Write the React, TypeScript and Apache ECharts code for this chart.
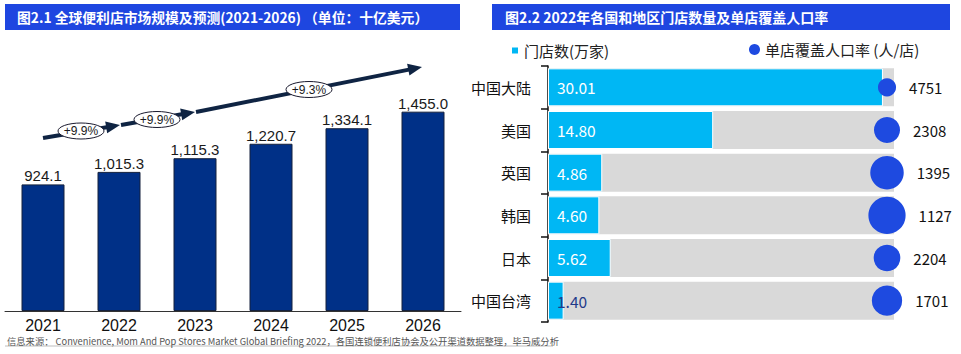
import React, { useEffect, useRef } from "react";
import * as echarts from "echarts";

const years = ["2021", "2022", "2023", "2024", "2025", "2026"];
const marketSize = [924.1, 1015.3, 1115.3, 1220.7, 1334.1, 1455.0];
const growthLabels = ["+9.9%", "+9.9%", "+9.3%"];

const regions = ["中国大陆", "美国", "英国", "韩国", "日本", "中国台湾"];
const storeCounts = [30.01, 14.8, 4.86, 4.6, 5.62, 1.4];
const coverage = [4751, 2308, 1395, 1127, 2204, 1701];

const title1 = "图2.1 全球便利店市场规模及预测(2021-2026) （单位：十亿美元）";
const title2 = "图2.2 2022年各国和地区门店数量及单店覆盖人口率";
const source =
  "信息来源： Convenience, Mom And Pop Stores Market Global Briefing 2022，各国连锁便利店协会及公开渠道数据整理，毕马威分析";

const CJK = '"Noto Sans CJK SC", "Noto Sans", sans-serif';
const NARROW = '"Liberation Sans Narrow", "Liberation Sans", sans-serif';
const ARROW = "#0f2443";

function arrow(x1: number, y1: number, x2: number, y2: number) {
  const dx = x2 - x1;
  const dy = y2 - y1;
  const len = Math.sqrt(dx * dx + dy * dy);
  const ux = dx / len;
  const uy = dy / len;
  const hl = 14;
  const hw = 6;
  const bx = x2 - ux * hl;
  const by = y2 - uy * hl;
  const px = -uy;
  const py = ux;
  return [
    {
      type: "line",
      shape: { x1, y1, x2: bx + ux * 2, y2: by + uy * 2 },
      style: { stroke: ARROW, lineWidth: 4 },
      z: 10,
    },
    {
      type: "polygon",
      shape: {
        points: [
          [x2, y2],
          [bx + px * hw, by + py * hw],
          [bx - px * hw, by - py * hw],
        ],
      },
      style: { fill: ARROW },
      z: 10,
    },
  ];
}

function bubble(cx: number, cy: number, text: string) {
  return [
    {
      type: "ellipse",
      shape: { cx, cy, rx: 23, ry: 8 },
      style: { fill: "#fff", stroke: "#1a1a2e", lineWidth: 1 },
      z: 11,
    },
    {
      type: "text",
      x: cx,
      y: cy,
      style: {
        text,
        fill: "#1a1a1a",
        font: '12px "Liberation Sans", sans-serif',
        align: "center",
        verticalAlign: "middle",
      },
      z: 12,
    },
  ];
}

export default function App() {
  const ref = useRef<HTMLDivElement>(null);
  useEffect(() => {
    if (!ref.current) return;
    document.body.style.margin = "0";
    document.body.style.overflow = "hidden";
    const chart = echarts.init(ref.current, null, { renderer: "svg" });
    const option: any = {
      animation: false,
      backgroundColor: "#fff",
      legend: [
        {
          data: ["门店数(万家)"],
          left: 505,
          top: 38,
          icon: "rect",
          itemWidth: 8,
          itemHeight: 8,
          itemGap: 6,
          selectedMode: false,
          textStyle: { fontFamily: CJK, fontSize: 15, color: "#222" },
        },
        {
          data: ["单店覆盖人口率 (人/店)"],
          left: 744,
          top: 37,
          icon: "circle",
          itemWidth: 11,
          itemHeight: 11,
          selectedMode: false,
          textStyle: { fontFamily: CJK, fontSize: 15, color: "#222" },
        },
      ],
      grid: [
        { left: 5, right: 500, top: 37, bottom: 43 },
        { left: 548, right: 67, top: 66, bottom: 32 },
        { left: 877, width: 20, top: 66, bottom: 32 },
      ],
      xAxis: [
        {
          type: "category",
          gridIndex: 0,
          data: years,
          axisLine: { lineStyle: { color: "#333", width: 1 } },
          axisTick: { show: false },
          axisLabel: {
            margin: 6,
            fontFamily: NARROW,
            fontSize: 16,
            color: "#111",
          },
        },
        {
          type: "value",
          gridIndex: 1,
          min: 0,
          max: 31,
          show: false,
        },
        {
          type: "category",
          gridIndex: 2,
          data: ["c"],
          show: false,
        },
      ],
      yAxis: [
        { type: "value", gridIndex: 0, min: 0, max: 2000, show: false },
        {
          type: "category",
          gridIndex: 1,
          data: regions,
          inverse: true,
          axisLine: { lineStyle: { color: "#111", width: 1.5 } },
          axisTick: { show: true, length: 7, lineStyle: { color: "#111", width: 1.5 } },
          axisLabel: { margin: 17, fontFamily: CJK, fontSize: 15, color: "#111" },
        },
        {
          type: "category",
          gridIndex: 2,
          data: regions,
          inverse: true,
          show: false,
        },
      ],
      series: [
        {
          type: "bar",
          xAxisIndex: 0,
          yAxisIndex: 0,
          data: marketSize,
          barWidth: 43,
          itemStyle: { color: "#003087", borderColor: "#14213d", borderWidth: 1 },
          label: {
            show: true,
            position: "top",
            distance: 1,
            fontFamily: NARROW,
            fontSize: 15,
            color: "#1a1a1a",
            formatter: (p: any) =>
              p.value.toLocaleString("en-US", { minimumFractionDigits: 1, maximumFractionDigits: 1 }),
          },
        },
        {
          name: "门店数(万家)",
          type: "bar",
          xAxisIndex: 1,
          yAxisIndex: 1,
          barWidth: 38,
          showBackground: true,
          backgroundStyle: { color: "#d9d9d9" },
          data: storeCounts.map((v) => ({
            value: v,
            label: { color: v < 3 ? "#1f3a8a" : "#fff" },
          })),
          itemStyle: { color: "#00b7f4", borderColor: "#fff", borderWidth: 1 },
          label: {
            show: true,
            position: "insideLeft",
            distance: 9,
            fontFamily: CJK,
            fontSize: 15.5,
            formatter: (p: any) => p.value.toFixed(2),
          },
        },
        {
          name: "单店覆盖人口率 (人/店)",
          type: "scatter",
          xAxisIndex: 2,
          yAxisIndex: 2,
          data: coverage.map((v, i) => ["c", regions[i], v]),
          symbolSize: (val: any) => 1250 / Math.sqrt(val[2]),
          itemStyle: { color: "#1e4ae0", opacity: 1 },
          label: {
            show: true,
            position: "right",
            distance: 13,
            fontFamily: CJK,
            fontSize: 15,
            color: "#111",
            formatter: (p: any) => String(p.value[2]),
          },
          z: 5,
        },
      ],
      graphic: [
        { type: "rect", shape: { x: 5, y: 4, width: 455, height: 26 }, style: { fill: "#1e46e0" } },
        { type: "rect", shape: { x: 492, y: 4, width: 458, height: 26 }, style: { fill: "#1e46e0" } },
        {
          type: "text",
          x: 17,
          y: 17,
          style: {
            text: title1,
            fill: "#fff",
            font: `bold 13.8px ${CJK}`,
            verticalAlign: "middle",
          },
        },
        {
          type: "text",
          x: 505,
          y: 17,
          style: {
            text: title2,
            fill: "#fff",
            font: `bold 14px ${CJK}`,
            verticalAlign: "middle",
          },
        },
        { type: "rect", shape: { x: 5, y: 345, width: 548, height: 2 }, style: { fill: "#dedede" } },
        {
          type: "text",
          x: 7,
          y: 341,
          style: {
            text: source,
            fill: "#555",
            font: `9.3px ${CJK}`,
            verticalAlign: "middle",
          },
        },
        ...arrow(43, 138, 120, 125),
        ...arrow(121, 125, 195, 112),
        ...arrow(196, 112, 422, 67),
        ...bubble(81, 131, growthLabels[0]),
        ...bubble(157, 119.5, growthLabels[1]),
        ...bubble(309, 89.5, growthLabels[2]),
      ],
    };
    chart.setOption(option);
    return () => chart.dispose();
  }, []);
  return <div ref={ref} style={{ width: 961, height: 354 }} />;
}
